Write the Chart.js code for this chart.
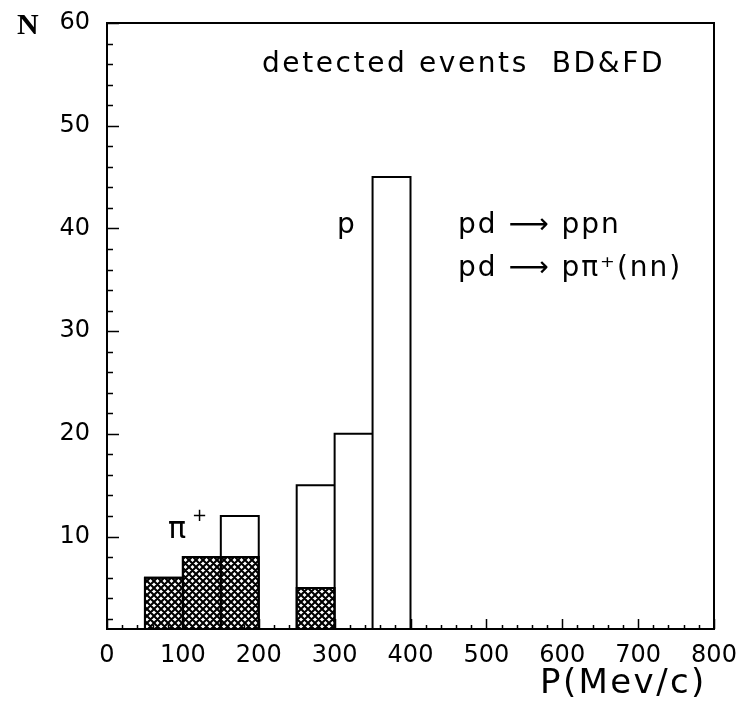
<!DOCTYPE html>
<html>
<head>
<meta charset="utf-8">
<script src="https://cdn.jsdelivr.net/npm/chart.js@4/dist/chart.umd.min.js"></script>
<style>
  html, body { margin: 0; padding: 0; background: #ffffff; }
  #wrap { width: 743px; height: 711px; }
</style>
</head>
<body>
<div id="wrap"><canvas id="c" width="743" height="711"></canvas></div>
<script>
// ---- data ----
const binLow      = [50, 100, 150, 250, 300, 350];
const binHigh     = [100, 150, 200, 300, 350, 400];
const allEvents   = [6, 8, 12, 15, 20, 45];       // open histogram (p + pi+)
const pionEvents  = [6, 8, 8, 5, null, null];     // hatched histogram (pi+)
const xTickLabels = [0, 100, 200, 300, 400, 500, 600, 700, 800];
const yTickLabels = [10, 20, 30, 40, 50, 60];

// histogram outline: every bin as a box rising from the base (0, below the axis minimum)
function histPoints(vals) {
  const pts = [];
  vals.forEach((v, i) => {
    if (v === null) return;
    pts.push({ x: binLow[i], y: 0 }, { x: binLow[i], y: v },
             { x: binHigh[i], y: v }, { x: binHigh[i], y: 0 });
  });
  return pts;
}

// crosshatch pattern
function makeHatch() {
  const s = 7;
  const pc = document.createElement('canvas');
  pc.width = s; pc.height = s;
  const g = pc.getContext('2d');
  g.fillStyle = '#ffffff';
  g.fillRect(0, 0, s, s);
  g.strokeStyle = '#000000';
  g.lineWidth = 2.1;
  g.beginPath();
  for (const dx of [-s, 0, s]) {
    g.moveTo(dx, 0); g.lineTo(dx + s, s);
    g.moveTo(dx, s); g.lineTo(dx + s, 0);
  }
  g.stroke();
  return document.getElementById('c').getContext('2d').createPattern(pc, 'repeat');
}

const TXT = '"DejaVu Sans", "Liberation Sans", sans-serif';

const framePlugin = {
  id: 'frame',
  afterDatasetsDraw(chart) {
    const ctx = chart.ctx;
    const a = chart.chartArea;
    const xs = chart.scales.x, ys = chart.scales.y;
    ctx.save();
    ctx.strokeStyle = '#000';
    ctx.lineWidth = 2;
    ctx.strokeRect(a.left, a.top, a.right - a.left, a.bottom - a.top);
    ctx.beginPath();
    for (let v = 0; v <= 800; v += 20) {
      const px = Math.round(xs.getPixelForValue(v)) + 0.5;
      const len = (v % 100 === 0) ? 10 : 4;
      ctx.moveTo(px, a.bottom);
      ctx.lineTo(px, a.bottom - len);
    }
    for (let v = 2; v <= 60; v += 2) {
      const py = Math.round(ys.getPixelForValue(v)) + 0.5;
      const len = (v % 10 === 0) ? 12 : 6;
      ctx.moveTo(a.left, py);
      ctx.lineTo(a.left + len, py);
    }
    ctx.lineWidth = 1.5;
    ctx.stroke();
    ctx.restore();
  },
  afterDraw(chart) {
    const ctx = chart.ctx;
    ctx.save();
    ctx.fillStyle = '#000';
    ctx.textBaseline = 'alphabetic';
    ctx.textAlign = 'left';
    ctx.font = 'bold 30px "Liberation Serif", "DejaVu Serif", serif';
    ctx.fillText('N', 17, 34);
    ctx.font = '28px ' + TXT;
    try { ctx.letterSpacing = '2.6px'; } catch (e) {}
    ctx.fillText('detected events  BD&FD', 262, 72);
    try { ctx.letterSpacing = '2px'; } catch (e) {}
    ctx.fillText('p', 337, 233);
    ctx.fillText('pd \u27F6 ppn', 458, 233);
    ctx.fillText('pd \u27F6 p\u03C0\u207A(nn)', 458, 276);
    try { ctx.letterSpacing = '0px'; } catch (e) {}
    ctx.font = '30px ' + TXT;
    ctx.fillText('\u03C0', 168, 538);
    ctx.font = '18px ' + TXT;
    ctx.fillText('+', 192, 521);
    ctx.font = '34px ' + TXT;
    try { ctx.letterSpacing = '2.4px'; } catch (e) {}
    ctx.fillText('P(Mev/c)', 540, 693);
    ctx.restore();
  }
};

const hatch = makeHatch();

new Chart(document.getElementById('c'), {
  type: 'line',
  data: {
    datasets: [
      {
        label: 'all events',
        data: histPoints(allEvents),
        borderColor: '#000',
        borderWidth: 2,
        fill: false,
        pointRadius: 0,
        tension: 0,
        order: 0,
        clip: 0
      },
      {
        label: 'pi+',
        data: histPoints(pionEvents),
        borderColor: '#000',
        borderWidth: 2,
        backgroundColor: hatch,
        fill: 'origin',
        pointRadius: 0,
        tension: 0,
        order: 1,
        clip: 0
      }
    ]
  },
  options: {
    responsive: false,
    animation: false,
    devicePixelRatio: 1,
    layout: { padding: { left: 0, right: 29, top: 23, bottom: 0 } },
    plugins: { legend: { display: false }, tooltip: { enabled: false } },
    scales: {
      x: {
        type: 'linear',
        min: 0, max: 800,
        grid: { display: false, drawTicks: false },
        border: { display: false },
        afterBuildTicks: s => { s.ticks = xTickLabels.map(v => ({ value: v })); },
        afterFit: s => { s.height = 82; s.paddingLeft = 0; s.paddingRight = 0; },
        ticks: { color: '#000', font: { family: TXT, size: 24 }, padding: 12, maxRotation: 0, autoSkip: false }
      },
      y: {
        type: 'linear',
        min: 1, max: 60,
        grid: { display: false, drawTicks: false },
        border: { display: false },
        afterBuildTicks: s => { s.ticks = yTickLabels.map(v => ({ value: v })); },
        afterFit: s => { s.width = 107; s.paddingTop = 0; s.paddingBottom = 0; },
        ticks: { color: '#000', font: { family: TXT, size: 24 }, padding: 17 }
      }
    }
  },
  plugins: [framePlugin]
});
</script>
</body>
</html>
